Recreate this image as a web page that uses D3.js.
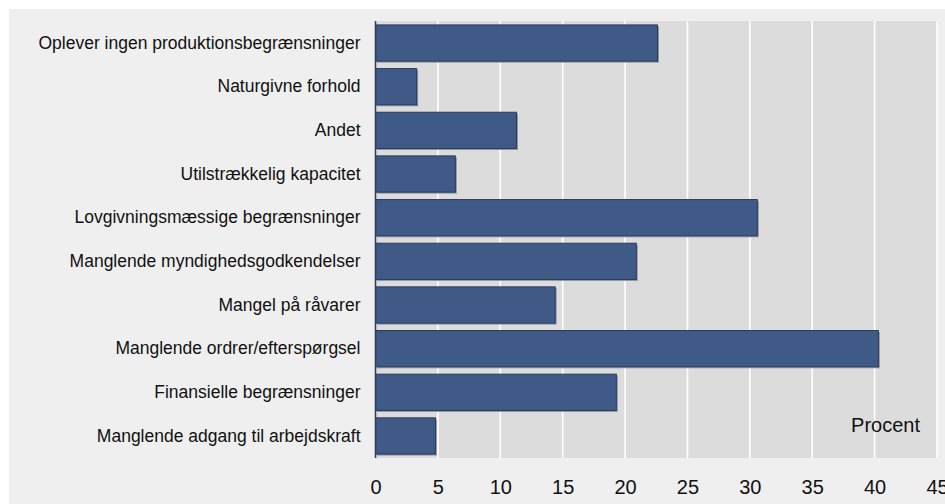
<!DOCTYPE html>
<html>
<head>
<meta charset="utf-8">
<script src="https://cdn.jsdelivr.net/npm/d3@7"></script>
<style>
  body { margin: 0; background: #ffffff; }
  svg { display: block; font-family: "Liberation Sans", Arial, sans-serif; }
</style>
</head>
<body>
<svg id="canvas"></svg>
<script>
// categories top to bottom, values in percent
let categories = [
  'Oplever ingen produktionsbegrænsninger',
  'Naturgivne forhold',
  'Andet',
  'Utilstrækkelig kapacitet',
  'Lovgivningsmæssige begrænsninger',
  'Manglende myndighedsgodkendelser',
  'Mangel på råvarer',
  'Manglende ordrer/efterspørgsel',
  'Finansielle begrænsninger',
  'Manglende adgang til arbejdskraft'
];
let values = [22.6, 3.3, 11.3, 6.4, 30.6, 20.9, 14.4, 40.3, 19.3, 4.8];
let xTicks = [0, 5, 10, 15, 20, 25, 30, 35, 40, 45];
let unitLabel = 'Procent';

let width = 945;
let height = 504;
let plotLeft = 375.5;
let plotRight = 937;
let plotTop = 21;
let plotBottom = 458;

let canvas = d3.select('#canvas')
  .attr('width', width)
  .attr('height', height);

// outer panel
canvas.append('rect')
  .attr('x', 9).attr('y', 9)
  .attr('width', width - 9).attr('height', height - 9)
  .attr('fill', '#efefef');

let xScale = d3.scaleLinear()
  .domain([0, 45])
  .range([plotLeft, plotRight]);

let yScale = d3.scaleBand()
  .domain(categories)
  .range([plotTop, plotBottom])
  .paddingInner(0.17)
  .paddingOuter(0.09);

// plot background
canvas.append('rect')
  .attr('x', plotLeft).attr('y', plotTop)
  .attr('width', plotRight - plotLeft).attr('height', plotBottom - plotTop)
  .attr('fill', '#dcdcdc');

// gridlines
canvas.append('g')
  .selectAll('line')
  .data(xTicks.filter(d => d > 0))
  .enter()
  .append('line')
  .attr('x1', d => xScale(d)).attr('x2', d => xScale(d))
  .attr('y1', plotTop).attr('y2', plotBottom)
  .attr('stroke', '#ffffff')
  .attr('stroke-width', 1.6);

// shadows
canvas.append('g')
  .selectAll('rect')
  .data(values)
  .enter()
  .append('rect')
  .attr('x', xScale(0) + 1.5)
  .attr('y', (d, i) => yScale(categories[i]) + 1.5)
  .attr('width', d => xScale(d) - xScale(0))
  .attr('height', yScale.bandwidth())
  .attr('fill', '#8e95a3');

// bars
canvas.append('g')
  .selectAll('rect')
  .data(values)
  .enter()
  .append('rect')
  .attr('x', xScale(0))
  .attr('y', (d, i) => yScale(categories[i]))
  .attr('width', d => xScale(d) - xScale(0))
  .attr('height', yScale.bandwidth())
  .attr('fill', '#405a88')
  .attr('stroke', '#2b3b5c')
  .attr('stroke-width', 1);

// y axis line
canvas.append('line')
  .attr('x1', plotLeft).attr('x2', plotLeft)
  .attr('y1', plotTop).attr('y2', plotBottom)
  .attr('stroke', '#2b3b5c')
  .attr('stroke-width', 1.5);

// category labels
let yAxis = d3.axisLeft(yScale).tickSize(0).tickPadding(15);
let yG = canvas.append('g')
  .attr('transform', 'translate(' + plotLeft + ',0)')
  .call(yAxis);
yG.select('.domain').remove();
yG.selectAll('text')
  .attr('font-size', 17.5)
  .attr('font-family', '"Liberation Sans", Arial, sans-serif')
  .attr('fill', '#111111');

// x tick labels
let xAxis = d3.axisBottom(xScale).tickValues(xTicks).tickSize(0).tickPadding(0);
let xG = canvas.append('g')
  .attr('transform', 'translate(0,' + 480 + ')')
  .call(xAxis);
xG.select('.domain').remove();
xG.selectAll('text')
  .attr('font-size', 20)
  .attr('font-family', '"Liberation Sans", Arial, sans-serif')
  .attr('fill', '#111111');

canvas.append('text')
  .attr('x', 920)
  .attr('y', 432)
  .attr('text-anchor', 'end')
  .attr('font-size', 20)
  .attr('fill', '#111111')
  .text(unitLabel);
</script>
</body>
</html>
